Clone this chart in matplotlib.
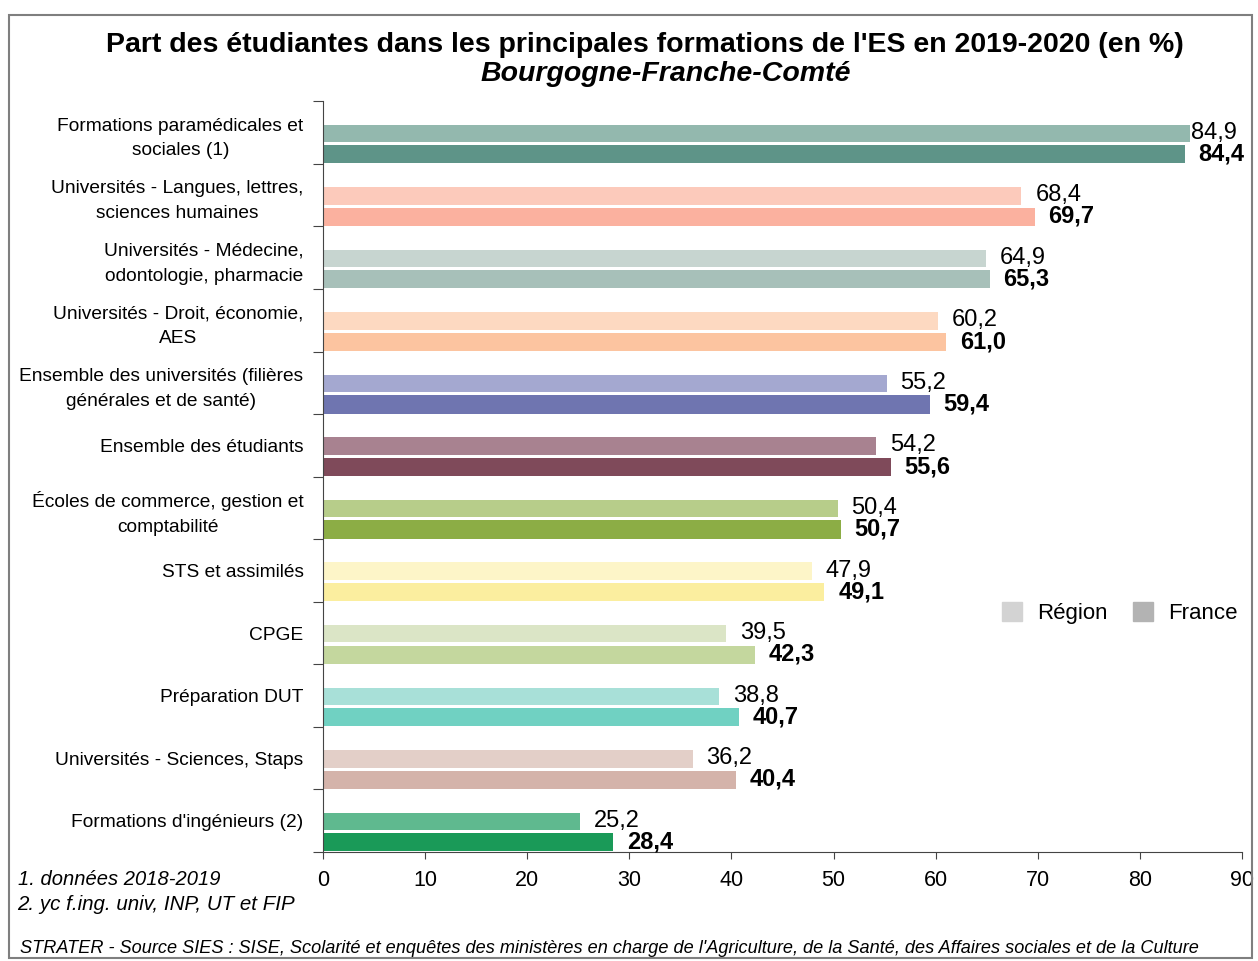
import matplotlib.pyplot as plt
import matplotlib.patches as mpatches
import numpy as np

plt.rcParams['font.family'] = ['Liberation Sans', 'DejaVu Sans']

categories = [
    "Formations paramédicales et\nsociales (1)",
    "Universités - Langues, lettres,\nsciences humaines",
    "Universités - Médecine,\nodontologie, pharmacie",
    "Universités - Droit, économie,\nAES",
    "Ensemble des universités (filières\ngénérales et de santé)",
    "Ensemble des étudiants",
    "Écoles de commerce, gestion et\ncomptabilité",
    "STS et assimilés",
    "CPGE",
    "Préparation DUT",
    "Universités - Sciences, Staps",
    "Formations d'ingénieurs (2)",
]
region = [84.9, 68.4, 64.9, 60.2, 55.2, 54.2, 50.4, 47.9, 39.5, 38.8, 36.2, 25.2]
france = [84.4, 69.7, 65.3, 61.0, 59.4, 55.6, 50.7, 49.1, 42.3, 40.7, 40.4, 28.4]

region_colors = ['#93b8ae', '#fccabb', '#c7d5d0', '#fdd9c1', '#a4a8d0', '#a88290',
                 '#b7cd8a', '#fdf5c8', '#dbe5c6', '#a8e0d8', '#e3cfc8', '#5fb98f']
france_colors = ['#5e9488', '#fbb19f', '#a7c0b9', '#fcc4a0', '#6f75b0', '#7f4a5a',
                 '#8cad45', '#fbee9f', '#c4d79e', '#70d1c2', '#d4b3aa', '#1a9a58']

fig = plt.figure(figsize=(12.58, 9.61), dpi=100)
ax = fig.add_axes([0.2568, 0.1134, 0.7305, 0.7811])

y = np.arange(len(categories))
ax.barh(y + 0.51, region, height=0.28, color=region_colors)
ax.barh(y + 0.845, france, height=0.29, color=france_colors)

for i in range(len(categories)):
    ax.text(min(region[i] + 1.35, 85.0), y[i] + 0.50, f"{region[i]:.1f}".replace('.', ','),
            va='center', ha='left', fontsize=17)
    ax.text(france[i] + 1.35, y[i] + 0.84, f"{france[i]:.1f}".replace('.', ','),
            va='center', ha='left', fontsize=17, fontweight='bold')

ax.set_xlim(0, 90)
ax.set_ylim(len(categories), 0)
ax.set_xticks(range(0, 91, 10))
ax.tick_params(axis='x', labelsize=15.5, length=5, color='#444444', pad=8)
ax.set_yticks(np.arange(len(categories) + 1))
ax.set_yticklabels([])
ax.set_yticks(y + 0.5, minor=True)
ax.set_yticklabels(categories, minor=True, fontsize=13.8, multialignment='center',
                   linespacing=1.6)
ax.tick_params(axis='y', which='minor', length=0, pad=14)
ax.tick_params(axis='y', which='major', length=7, color='#444444')
for s in ['top', 'right']:
    ax.spines[s].set_visible(False)
ax.spines['left'].set_color('#444444')
ax.spines['bottom'].set_color('#444444')

handles = [mpatches.Patch(color='#d3d3d3', label='Région'),
           mpatches.Patch(color='#b3b3b3', label='France')]
ax.legend(handles=handles, loc='center', bbox_to_anchor=(0.867, 0.318), ncol=2,
          frameon=False, handlelength=0.9, handleheight=0.9,
          columnspacing=1.1, handletextpad=0.7, prop={'size': 16})

fig.text(0.513, 0.953, "Part des étudiantes dans les principales formations de l'ES en 2019-2020 (en %)",
         ha='center', va='center', fontsize=20.5, fontweight='bold')
fig.text(0.529, 0.923, "Bourgogne-Franche-Comté", ha='center', va='center', fontsize=20.5,
         fontweight='bold', style='italic')

fig.text(0.014, 0.085, "1. données 2018-2019", ha='left', va='center', fontsize=14.5, style='italic')
fig.text(0.014, 0.059, "2. yc f.ing. univ, INP, UT et FIP", ha='left', va='center', fontsize=14.8, style='italic')
fig.text(0.016, 0.013, "STRATER - Source SIES : SISE, Scolarité et enquêtes des ministères en charge de l'Agriculture, de la Santé, des Affaires sociales et de la Culture",
         ha='left', va='center', fontsize=13.1, style='italic')

border = mpatches.Rectangle((0.007, 0.003), 0.988, 0.981, transform=fig.transFigure,
                            fill=False, edgecolor='#7f7f7f', linewidth=1.5)
fig.patches.append(border)

fig.savefig('out.png', dpi=100)
